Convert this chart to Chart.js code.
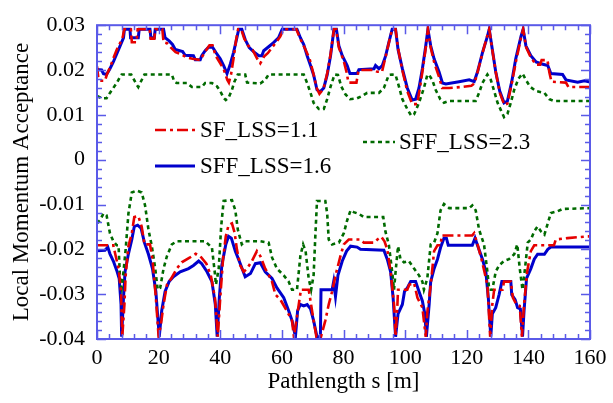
<!DOCTYPE html>
<html>
<head>
<meta charset="utf-8">
<script src="https://cdn.jsdelivr.net/npm/chart.js@4.4.1/dist/chart.umd.min.js"></script>
<style>
  html, body { margin: 0; padding: 0; background: #ffffff; }
  canvas { display: block; }
</style>
</head>
<body>
<canvas id="acc" width="613" height="403" style="width:613px;height:403px"></canvas>
<script>
// Axis ticks and their printed labels
const xTicks = [0, 20, 40, 60, 80, 100, 120, 140, 160];
const xTickLabels = ['0', '20', '40', '60', '80', '100', '120', '140', '160'];
const yTicks = [-0.04, -0.03, -0.02, -0.01, 0, 0.01, 0.02, 0.03];
const yTickLabels = ['-0.04', '-0.03', '-0.02', '-0.01', '0', '0.01', '0.02', '0.03'];

// Series names
const seriesNames = ['SF_LSS=1.1', 'SFF_LSS=1.6', 'SFF_LSS=2.3'];

// Local momentum acceptance [s (m), delta] – positive side
const sf11Upper = [
  [0,0.0208],[0.4,0.0185],[1,0.0176],[2.6,0.0176],[3.2,0.019],[4.2,0.0205],[5.3,0.0226],[6.4,0.0245],
  [7.5,0.026],[8.4,0.0275],[8.8,0.0291],[11.0,0.0291],[11.3,0.0262],[12.8,0.0262],[13.2,0.0291],
  [17.1,0.0291],[17.4,0.027],[18.6,0.027],[18.9,0.0291],[21.2,0.0291],[21.6,0.0262],[22.7,0.026],
  [24,0.025],[25.5,0.024],[27.5,0.0235],[29,0.0228],[31,0.0225],[33.5,0.0222],[35,0.024],[36.5,0.0255],
  [37.5,0.0255],[38.5,0.0232],[40,0.0215],[41.2,0.02],[42.3,0.0178],[42.8,0.0172],[43.5,0.019],
  [44.3,0.0225],[45.2,0.027],[45.8,0.0291],[46.8,0.0291],[47.8,0.027],[49,0.0255],[50.5,0.0245],
  [52,0.0225],[53,0.0215],[54.2,0.023],[55.5,0.0238],[57,0.0252],[58.5,0.0265],[59.5,0.0275],
  [60.5,0.0291],[64.7,0.0291],[65.8,0.0272],[67.5,0.0248],[69,0.0225],[70.3,0.019],[71.3,0.016],
  [72.2,0.0147],[73.5,0.0158],[74.7,0.0192],[75.8,0.0235],[76.9,0.0291],[77.6,0.0291],[78.5,0.025],
  [80,0.0222],[81,0.0195],[81.6,0.0172],[84.2,0.0172],[84.8,0.0196],[85.2,0.02],[90,0.02],[91,0.0196],
  [92.5,0.0196],[93.5,0.0225],[94.7,0.026],[95.8,0.0291],[96.9,0.0291],[97.8,0.0245],[99.2,0.0196],
  [100.7,0.0153],[102.3,0.0124],[103.9,0.0124],[104.8,0.016],[105.8,0.0205],[106.8,0.0255],
  [107.4,0.0291],[108.3,0.025],[109.5,0.0215],[111,0.0185],[112,0.016],[114.3,0.016],[118,0.0162],
  [121.5,0.0165],[122.5,0.017],[123.5,0.0195],[125,0.0235],[126.6,0.0275],[127.3,0.0291],[128.4,0.024],
  [129.5,0.0192],[130.8,0.0148],[132.2,0.0122],[133.2,0.0125],[134.6,0.017],[136,0.022],[137.6,0.0272],
  [138.3,0.0291],[139.3,0.025],[140.8,0.0228],[142.5,0.0212],[143.8,0.0212],[144.3,0.0222],
  [146.2,0.0222],[146.8,0.0195],[147.5,0.0174],[152.2,0.0172],[153,0.0162],[160,0.0162]
];
const sff16Upper = [
  [0,0.0201],[1.5,0.02],[2.1,0.0192],[3.1,0.019],[4.2,0.0203],[5.3,0.0218],[6.4,0.0236],[7.5,0.0254],
  [8.6,0.0272],[8.9,0.0291],[10.7,0.0291],[10.9,0.0272],[13.4,0.0272],[13.7,0.0291],[17.2,0.0291],
  [17.5,0.0272],[18.6,0.0272],[18.9,0.0291],[21.6,0.0291],[22.1,0.0272],[23.4,0.0265],[24.5,0.0257],
  [25.4,0.0246],[27.8,0.0241],[28.6,0.0233],[31.3,0.0232],[31.9,0.0223],[33.5,0.0223],[34.0,0.0232],
  [35.1,0.0243],[36.2,0.0251],[37.5,0.0251],[38.6,0.0239],[40.0,0.0225],[41.1,0.021],[42.2,0.0192],
  [43.3,0.0214],[44.3,0.0239],[45.4,0.0272],[46.0,0.0291],[47.0,0.0291],[48.1,0.0268],[49.4,0.025],
  [50.8,0.0241],[52.5,0.0232],[53.5,0.0232],[54.1,0.0243],[55.7,0.0252],[57.3,0.0261],[58.9,0.0272],
  [60.1,0.0291],[64.9,0.0291],[66.0,0.0272],[67.1,0.0257],[68.2,0.0232],[69.3,0.021],[70.3,0.0189],
  [71.4,0.0156],[72.3,0.0151],[73.6,0.016],[74.7,0.0189],[75.8,0.0232],[76.9,0.0291],[77.7,0.0291],
  [78.5,0.0254],[79.6,0.0232],[81.2,0.021],[82.1,0.0192],[84.4,0.0192],[85.0,0.0201],[89.9,0.0203],
  [90.4,0.021],[91.5,0.0203],[92.6,0.021],[93.7,0.0232],[94.7,0.0261],[95.8,0.0291],[96.9,0.0291],
  [97.7,0.0246],[99.1,0.0203],[100.7,0.016],[102.3,0.0133],[103.4,0.0135],[104.5,0.016],[105.6,0.0203],
  [106.7,0.0254],[107.4,0.0291],[108.3,0.0254],[109.4,0.0225],[111.0,0.0196],[112.1,0.0171],
  [113.2,0.0169],[117.5,0.0174],[120.8,0.0178],[122.4,0.0174],[123.5,0.0196],[125.1,0.0239],
  [126.7,0.0275],[127.3,0.0291],[128.3,0.0246],[129.4,0.0196],[130.7,0.0153],[132.1,0.0127],
  [133.2,0.0131],[134.6,0.0174],[135.9,0.0225],[137.6,0.0275],[138.3,0.0291],[139.2,0.0254],
  [140.8,0.0232],[142.5,0.0218],[144.1,0.0214],[146.3,0.021],[147.3,0.0192],[151.1,0.019],
  [152.2,0.0178],[156.0,0.0173],[158.2,0.0176],[160,0.0173]
];
const sff23Upper = [
  [0,0.0142],[1.5,0.0137],[3.1,0.0137],[4.2,0.0149],[5.3,0.016],[6.4,0.0171],[7.5,0.0185],[8.0,0.019],
  [11.1,0.019],[11.8,0.0181],[12.9,0.0167],[13.4,0.0162],[14.3,0.0175],[15.4,0.019],[24.3,0.019],
  [25.1,0.0174],[25.9,0.0171],[29.2,0.0171],[30.8,0.0162],[34.0,0.0162],[35.1,0.0171],[37.3,0.0171],
  [38.9,0.0164],[40.0,0.0153],[41.1,0.0138],[41.8,0.0133],[42.7,0.0138],[43.8,0.0156],[44.6,0.0174],
  [45.7,0.019],[48.1,0.019],[48.7,0.0172],[53.0,0.017],[54.6,0.0178],[55.7,0.019],[67.1,0.019],
  [68.2,0.0171],[69.3,0.0149],[70.3,0.0127],[72.0,0.0113],[73.6,0.0113],[74.7,0.0135],[75.8,0.0163],
  [77.1,0.019],[78.2,0.0189],[79.3,0.0163],[80.6,0.0146],[82.1,0.0135],[84.4,0.0137],[86.0,0.0142],
  [87.7,0.0149],[91.5,0.0149],[93.1,0.016],[94.7,0.0189],[95.8,0.019],[96.9,0.0189],[98.0,0.0163],
  [99.1,0.0135],[100.7,0.0113],[102.0,0.0098],[102.9,0.0101],[104.5,0.0127],[106.1,0.016],
  [107.2,0.0189],[107.7,0.019],[108.8,0.0178],[109.9,0.0156],[111.4,0.0135],[112.6,0.0127],
  [114.3,0.0131],[122.9,0.0131],[124.0,0.0149],[125.1,0.0171],[126.7,0.019],[127.8,0.0178],
  [128.9,0.0153],[130.0,0.0127],[131.1,0.011],[132.1,0.0095],[133.2,0.0102],[134.3,0.0127],
  [135.4,0.0156],[136.8,0.0181],[138.1,0.0192],[139.2,0.0178],[140.5,0.0163],[142.5,0.0153],
  [145.2,0.0149],[146.8,0.0135],[148.3,0.0131],[160,0.0131]
];

// Negative side
const sf11Lower = [
  [0,-0.0191],[5.3,-0.0191],[5.9,-0.021],[7.0,-0.0243],[7.8,-0.0294],[8.2,-0.0395],[8.9,-0.0323],
  [9.3,-0.0258],[10.2,-0.0193],[11.3,-0.0164],[12.1,-0.0128],[13.4,-0.0126],[14.5,-0.0149],
  [15.4,-0.0189],[17.2,-0.0189],[18.0,-0.0222],[19.1,-0.0308],[20.0,-0.0395],[20.8,-0.0365],
  [21.6,-0.0323],[22.7,-0.0279],[24.1,-0.0265],[25.9,-0.0243],[27.5,-0.0229],[30.2,-0.0218],
  [32.0,-0.021],[33.5,-0.0215],[35.5,-0.0232],[37.0,-0.026],[38.3,-0.031],[39.2,-0.0395],
  [40.0,-0.0308],[40.9,-0.0222],[41.8,-0.0171],[42.7,-0.0146],[43.8,-0.0142],[44.7,-0.0164],
  [45.4,-0.02],[46.5,-0.0236],[47.6,-0.025],[48.7,-0.0243],[50.3,-0.0226],[51.9,-0.0204],
  [53.0,-0.0215],[54.6,-0.0243],[55.2,-0.025],[56.8,-0.0272],[57.9,-0.0301],[59.5,-0.0312],
  [61.6,-0.0337],[63.3,-0.0359],[63.9,-0.0395],[64.9,-0.035],[65.8,-0.0308],[66.2,-0.029],
  [68.7,-0.029],[69.3,-0.0315],[70.3,-0.0359],[71.2,-0.0395],[72.7,-0.0395],[74.1,-0.0359],
  [75.2,-0.0323],[76.3,-0.0294],[77.7,-0.025],[79.0,-0.0215],[80.1,-0.0189],[81.7,-0.0178],
  [85.5,-0.0178],[86.6,-0.0185],[89.9,-0.0185],[91.0,-0.0178],[92.3,-0.0172],[93.3,-0.0182],
  [94.2,-0.02],[95.3,-0.025],[96.4,-0.0323],[96.9,-0.0395],[97.5,-0.0323],[97.7,-0.029],
  [100.7,-0.029],[101.3,-0.0279],[102.9,-0.0275],[104.0,-0.0308],[105.6,-0.033],[106.7,-0.0395],
  [107.2,-0.034],[108.3,-0.028],[109.4,-0.0204],[110.5,-0.0191],[111.5,-0.0191],[111.9,-0.0169],
  [121.8,-0.0169],[122.4,-0.0164],[123.5,-0.0189],[124.8,-0.0222],[126.7,-0.0279],[127.6,-0.0395],
  [128.3,-0.0323],[128.9,-0.029],[131.6,-0.029],[132.1,-0.0272],[134.3,-0.0272],[135.0,-0.0308],
  [136.1,-0.0323],[137.2,-0.0326],[137.9,-0.0395],[138.6,-0.0323],[139.6,-0.025],[140.8,-0.0204],
  [141.9,-0.0191],[148.3,-0.0191],[148.9,-0.0178],[152.7,-0.0175],[159.2,-0.0171],[160,-0.0171]
];
const sff16Lower = [
  [0,-0.0203],[2.6,-0.0202],[3.5,-0.0195],[4.2,-0.021],[5.3,-0.0226],[6.4,-0.0247],[7.2,-0.0265],
  [7.8,-0.0323],[8.0,-0.0395],[8.6,-0.0308],[9.1,-0.025],[10.2,-0.021],[11.3,-0.0178],[12.1,-0.0149],
  [13.2,-0.0146],[14.3,-0.0153],[15.4,-0.0185],[16.7,-0.0211],[18.0,-0.0243],[19.1,-0.0294],
  [20.2,-0.0395],[21.0,-0.0337],[22.1,-0.0294],[23.4,-0.0272],[24.8,-0.0261],[27.0,-0.025],
  [29.7,-0.0243],[31.3,-0.0236],[33.0,-0.0226],[34.0,-0.0232],[35.7,-0.025],[37.3,-0.0272],
  [38.4,-0.0323],[39.0,-0.0395],[39.7,-0.0308],[40.5,-0.0236],[41.8,-0.0189],[42.7,-0.0171],
  [43.6,-0.0175],[44.9,-0.0204],[46.5,-0.0232],[48.1,-0.0261],[49.8,-0.0254],[51.4,-0.0232],
  [53.0,-0.023],[54.6,-0.025],[56.8,-0.0265],[58.4,-0.0286],[60.6,-0.0308],[62.2,-0.0337],
  [63.3,-0.0359],[64.4,-0.0395],[65.1,-0.0337],[66.0,-0.0323],[67.1,-0.0326],[68.2,-0.0323],
  [69.3,-0.0333],[70.3,-0.0359],[71.4,-0.0395],[72.5,-0.0395],[72.7,-0.029],[76.3,-0.029],
  [76.8,-0.0272],[77.4,-0.0305],[78.2,-0.0258],[79.6,-0.0226],[81.0,-0.0204],[82.3,-0.0193],
  [84.4,-0.0195],[85.5,-0.02],[93.1,-0.0202],[94.2,-0.0222],[95.3,-0.025],[96.1,-0.0308],
  [96.9,-0.0395],[97.7,-0.0344],[99.1,-0.0323],[99.8,-0.0294],[100.7,-0.0286],[101.8,-0.0272],
  [103.4,-0.0272],[104.5,-0.0294],[105.6,-0.0315],[106.4,-0.0344],[106.9,-0.0395],[107.8,-0.0323],
  [108.3,-0.0272],[109.4,-0.0243],[110.5,-0.0222],[111.5,-0.0196],[112.6,-0.0175],[113.4,-0.0175],
  [114.0,-0.0191],[121.8,-0.0191],[122.7,-0.0175],[123.4,-0.0189],[125.1,-0.0222],[126.2,-0.025],
  [127.0,-0.0308],[127.8,-0.0395],[128.3,-0.0344],[129.4,-0.033],[130.5,-0.0301],[131.4,-0.0272],
  [134.3,-0.0272],[134.6,-0.0301],[135.7,-0.0312],[136.5,-0.033],[137.4,-0.0333],[138.1,-0.0395],
  [138.6,-0.0337],[139.4,-0.0265],[140.8,-0.0243],[141.9,-0.0222],[143.0,-0.0211],[145.2,-0.0211],
  [146.3,-0.02],[147.3,-0.0195],[160,-0.0195]
];
const sff23Lower = [
  [0,-0.0142],[1.0,-0.0135],[2.1,-0.012],[3.1,-0.0124],[4.2,-0.0164],[5.3,-0.0182],[6.4,-0.0191],
  [7.0,-0.0191],[7.5,-0.0272],[8.0,-0.0286],[8.6,-0.025],[9.3,-0.02],[10.2,-0.012],[11.3,-0.0073],
  [12.9,-0.0069],[14.5,-0.0073],[15.6,-0.0102],[16.7,-0.0156],[17.8,-0.0193],[18.9,-0.0243],
  [19.7,-0.029],[20.5,-0.0286],[21.6,-0.0243],[22.7,-0.0215],[24.3,-0.0189],[25.9,-0.0182],
  [35.1,-0.0182],[37.3,-0.0196],[38.2,-0.025],[38.6,-0.0279],[39.5,-0.0243],[40.3,-0.0149],
  [41.1,-0.0092],[43.8,-0.009],[44.9,-0.0113],[45.7,-0.0156],[47.0,-0.0189],[48.1,-0.0182],
  [53.0,-0.0182],[55.7,-0.0185],[56.8,-0.0218],[58.4,-0.0243],[60.6,-0.0258],[62.2,-0.0272],
  [63.3,-0.029],[64.9,-0.029],[66.0,-0.0215],[66.9,-0.0189],[67.7,-0.0204],[68.7,-0.0265],
  [69.5,-0.029],[70.3,-0.0258],[70.9,-0.0164],[71.4,-0.0092],[74.1,-0.0092],[74.7,-0.012],
  [75.2,-0.0178],[76.3,-0.0189],[78.5,-0.0185],[80.1,-0.0164],[81.2,-0.0135],[82.3,-0.0113],
  [83.3,-0.0117],[85.0,-0.0121],[86.6,-0.0128],[92.9,-0.0128],[93.6,-0.016],[94.7,-0.0189],
  [95.8,-0.025],[96.4,-0.029],[96.9,-0.025],[97.7,-0.0193],[98.5,-0.0222],[99.6,-0.0229],
  [101.2,-0.0226],[102.9,-0.0243],[104.5,-0.0258],[105.6,-0.0272],[106.1,-0.029],[107.2,-0.0265],
  [108.3,-0.0189],[109.4,-0.0185],[110.5,-0.0164],[111.5,-0.0113],[112.6,-0.0099],[114.3,-0.0108],
  [120.8,-0.0108],[121.8,-0.0102],[122.9,-0.0113],[124.0,-0.0156],[125.6,-0.0189],[126.7,-0.025],
  [127.3,-0.029],[128.3,-0.029],[129.4,-0.025],[130.5,-0.0236],[132.1,-0.0226],[133.7,-0.0222],
  [135.4,-0.0211],[136.4,-0.0189],[137.2,-0.0243],[138.1,-0.029],[138.9,-0.0243],[139.8,-0.0185],
  [140.8,-0.0178],[141.9,-0.016],[143.0,-0.0149],[144.1,-0.016],[145.2,-0.0167],[146.3,-0.0142],
  [147.3,-0.0119],[149.5,-0.0115],[151.1,-0.011],[160,-0.0108]
];

const SERIF = '"Liberation Serif", "Times New Roman", Times, serif';
const FRAME_BLUE = '#5a5ae8';

// Line styles per optics setting
const styles = [
  { color: '#e60000', width: 2.6, dash: [11, 4, 3, 4] },
  { color: '#0000cc', width: 3.0, dash: [] },
  { color: '#006a00', width: 2.6, dash: [4, 3.5] }
];

const toPoints = arr => arr.map(([s, d]) => ({ x: s, y: d }));

function makeSet(points, st) {
  return {
    data: toPoints(points),
    borderColor: st.color,
    borderWidth: st.width,
    borderDash: st.dash,
    pointRadius: 0,
    fill: false,
    tension: 0
  };
}

// Frame with inward ticks on all four sides
const frameTicks = {
  id: 'frameTicks',
  afterDatasetsDraw(chart) {
    const { ctx, chartArea: a, scales } = chart;
    const xs = scales.x, ys = scales.y;
    ctx.save();
    ctx.strokeStyle = FRAME_BLUE;
    ctx.lineWidth = 1.5;
    ctx.beginPath();
    const xMinorStep = 4, xMajorStep = 20;
    for (let v = xs.min; v <= xs.max + 1e-9; v += xMinorStep) {
      const px = Math.round(xs.getPixelForValue(v)) + 0.5;
      const len = (Math.round(v) % xMajorStep === 0) ? 9 : 5;
      ctx.moveTo(px, a.bottom); ctx.lineTo(px, a.bottom - len);
      ctx.moveTo(px, a.top); ctx.lineTo(px, a.top + len);
    }
    const yMinorStep = 0.002;
    const nY = Math.round((ys.max - ys.min) / yMinorStep);
    for (let i = 0; i <= nY; i++) {
      const v = ys.min + i * yMinorStep;
      const py = Math.round(ys.getPixelForValue(v)) + 0.5;
      const len = (i % 5 === 0) ? 9 : 5;
      ctx.moveTo(a.left, py); ctx.lineTo(a.left + len, py);
      ctx.moveTo(a.right, py); ctx.lineTo(a.right - len, py);
    }
    ctx.stroke();
    ctx.lineWidth = 2;
    ctx.strokeRect(a.left, a.top, a.right - a.left, a.bottom - a.top);
    ctx.restore();
  }
};

// Key placed inside the plot
const keyEntries = [
  { series: 0, x0: 155, x1: 195, y: 130, tx: 200 },
  { series: 1, x0: 155, x1: 195, y: 166, tx: 200 },
  { series: 2, x0: 363, x1: 395, y: 142, tx: 399 }
];
const inlineKey = {
  id: 'inlineKey',
  afterDraw(chart) {
    const { ctx } = chart;
    ctx.save();
    keyEntries.forEach(k => {
      const st = styles[k.series];
      ctx.strokeStyle = st.color;
      ctx.lineWidth = st.width;
      ctx.setLineDash(st.dash);
      ctx.beginPath();
      ctx.moveTo(k.x0, k.y); ctx.lineTo(k.x1, k.y);
      ctx.stroke();
      ctx.setLineDash([]);
      ctx.fillStyle = '#000';
      ctx.font = '23px ' + SERIF;
      ctx.textBaseline = 'middle';
      ctx.textAlign = 'left';
      ctx.fillText(seriesNames[k.series], k.tx, k.y + 1);
    });
    ctx.restore();
  }
};

const ctx = document.getElementById('acc').getContext('2d');
new Chart(ctx, {
  type: 'line',
  data: {
    datasets: [
      makeSet(sf11Upper, styles[0]),
      makeSet(sf11Lower, styles[0]),
      makeSet(sff23Upper, styles[2]),
      makeSet(sff23Lower, styles[2]),
      makeSet(sff16Upper, styles[1]),
      makeSet(sff16Lower, styles[1])
    ]
  },
  options: {
    responsive: false,
    animation: false,
    devicePixelRatio: 1,
    layout: { padding: { left: 0, top: 16, right: 23, bottom: 0 } },
    plugins: { legend: { display: false }, tooltip: { enabled: false } },
    scales: {
      x: {
        type: 'linear',
        min: 0, max: 160,
        afterBuildTicks: s => { s.ticks = xTicks.map(v => ({ value: v })); },
        afterFit: s => { s.height = 64; },
        grid: { display: false, drawTicks: false },
        border: { display: false },
        ticks: {
          padding: 6, color: '#000', maxRotation: 0, autoSkip: false,
          font: { family: SERIF, size: 22 },
          callback: (v, i) => xTickLabels[i]
        },
        title: {
          display: true, text: 'Pathlength s [m]', color: '#000',
          font: { family: SERIF, size: 23 },
          padding: { top: 0, bottom: 7 }
        }
      },
      y: {
        type: 'linear',
        min: -0.04, max: 0.03,
        afterBuildTicks: s => { s.ticks = yTicks.map(v => ({ value: v })); },
        afterFit: s => { s.width = 97; },
        grid: { display: false, drawTicks: false },
        border: { display: false },
        ticks: {
          padding: 12, color: '#000', autoSkip: false,
          font: { family: SERIF, size: 22 },
          callback: (v, i) => yTickLabels[i]
        },
        title: {
          display: true, text: 'Local Momentum Acceptance', color: '#000',
          font: { family: SERIF, size: 23 },
          padding: { top: 8, bottom: 0 }
        }
      }
    }
  },
  plugins: [frameTicks, inlineKey]
});
</script>
</body>
</html>
